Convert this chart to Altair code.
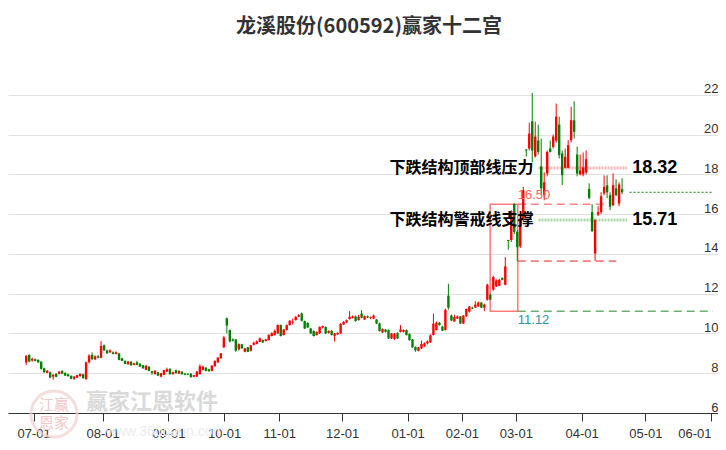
import altair as alt
import pandas as pd

title_text = "龙溪股份(600592)赢家十二宫"

# candle data, one entry per trading day; position of the first candle on the day axis
first_index = -2.5
opens = [8.54, 8.92, 8.64, 8.70, 8.67, 8.58, 8.25, 8.02, 8.05, 7.83,
         7.97, 7.97, 8.12, 8.02, 7.95, 7.87, 7.73, 7.78, 7.85, 7.95,
         7.70, 8.55, 8.92, 8.70, 8.85, 8.78, 9.40, 9.15, 9.05, 9.05,
         8.97, 9.00, 8.75, 8.62, 8.45, 8.58, 8.42, 8.55, 8.48, 8.40,
         8.17, 8.33, 8.10, 7.95, 8.05, 7.83, 7.92, 8.08, 8.22, 7.95,
         8.15, 7.98, 8.08, 7.98, 7.97, 7.98, 7.82, 7.83, 7.95, 8.17,
         8.28, 8.20, 8.12, 8.35, 8.55, 8.75, 9.30, 10.76, 10.17, 9.70,
         9.70, 9.20, 9.45, 9.08, 9.30, 9.13, 9.43, 9.47, 9.58, 9.67,
         9.62, 9.67, 9.87, 9.93, 10.00, 10.42, 9.92, 10.17, 10.42, 10.55,
         10.67, 10.84, 11.00, 10.62, 10.53, 10.25, 10.13, 9.92, 10.00, 10.30,
         10.33, 10.03, 10.13, 9.88, 9.95, 10.00, 10.45, 10.55, 10.72, 10.78,
         10.86, 10.67, 11.00, 10.70, 10.87, 10.78, 10.75, 10.70, 10.50, 10.05,
         10.20, 10.17, 9.75, 9.72, 10.03, 10.08, 10.08, 10.17, 9.97, 9.70,
         9.32, 9.13, 9.25, 9.35, 9.50, 9.55, 9.92, 10.17, 10.54, 10.34,
         10.17, 11.90, 10.90, 10.60, 10.75, 10.86, 10.50, 10.86, 11.10, 11.30,
         11.30, 11.36, 11.55, 11.30, 11.70, 11.95, 12.20, 12.37, 12.40, 12.79,
         12.45, 14.70, 14.70, 16.50, 15.11, 14.38, 15.72, 19.25, 19.30, 20.67,
         18.90, 19.70, 18.40, 16.95, 18.04, 19.30, 19.38, 19.70, 20.50, 19.05,
         18.33, 18.33, 19.72, 20.72, 19.00, 18.00, 18.00, 18.10, 17.26, 16.10,
         14.02, 15.98, 16.10, 17.04, 17.45, 16.95, 16.45, 17.29, 16.53, 17.26]
highs = [8.92, 8.95, 8.78, 8.74, 8.70, 8.60, 8.28, 8.16, 8.08, 7.95,
         8.00, 8.10, 8.14, 8.04, 7.97, 7.89, 7.85, 7.92, 7.99, 7.97,
         8.58, 8.95, 9.05, 8.90, 8.92, 9.62, 9.45, 9.18, 9.20, 9.10,
         9.10, 9.02, 8.78, 8.65, 8.62, 8.60, 8.52, 8.62, 8.50, 8.42,
         8.40, 8.35, 8.13, 8.15, 8.07, 8.02, 8.17, 8.28, 8.24, 8.07,
         8.18, 8.14, 8.10, 8.00, 7.99, 8.00, 7.92, 8.12, 8.45, 8.38,
         8.30, 8.22, 8.40, 8.65, 8.82, 9.02, 9.88, 10.80, 10.20, 9.75,
         9.72, 9.50, 9.48, 9.28, 9.32, 9.42, 9.58, 9.65, 9.80, 9.70,
         9.73, 9.95, 10.05, 10.20, 10.45, 10.45, 10.22, 10.45, 10.67, 10.75,
         10.87, 10.98, 11.05, 10.65, 10.56, 10.28, 10.15, 10.10, 10.35, 10.40,
         10.35, 10.15, 10.17, 10.02, 10.06, 10.52, 10.62, 10.70, 11.12, 10.90,
         10.90, 10.93, 11.17, 10.90, 10.90, 10.85, 10.95, 10.72, 10.55, 10.25,
         10.22, 10.20, 10.02, 10.02, 10.05, 10.42, 10.20, 10.20, 10.00, 9.72,
         9.35, 9.32, 9.64, 9.55, 9.65, 9.95, 11.00, 10.60, 10.58, 10.38,
         11.25, 12.50, 10.95, 10.95, 10.90, 10.88, 10.92, 11.25, 11.38, 11.34,
         11.62, 11.60, 11.58, 11.50, 12.50, 12.00, 12.90, 12.72, 12.75, 12.82,
         13.84, 14.71, 16.20, 16.55, 15.20, 15.80, 17.37, 19.27, 20.60, 22.10,
         20.65, 20.50, 19.80, 18.10, 19.20, 19.70, 20.00, 21.56, 20.90, 19.20,
         19.30, 19.72, 21.40, 21.68, 19.40, 19.00, 19.10, 19.20, 17.55, 16.50,
         15.75, 16.40, 17.10, 17.95, 17.95, 17.10, 18.05, 17.75, 17.60, 17.80]
lows = [8.42, 8.55, 8.58, 8.60, 8.52, 8.18, 8.02, 8.00, 7.75, 7.67,
        7.80, 7.95, 7.96, 7.86, 7.83, 7.70, 7.66, 7.76, 7.83, 7.73,
        7.68, 8.50, 8.68, 8.66, 8.75, 8.75, 9.12, 8.97, 9.02, 8.95,
        8.95, 8.65, 8.60, 8.45, 8.43, 8.38, 8.40, 8.40, 8.31, 8.22,
        8.15, 8.10, 7.92, 7.93, 7.86, 7.80, 7.90, 8.06, 7.93, 7.93,
        7.98, 7.96, 7.93, 7.90, 7.90, 7.78, 7.80, 7.81, 7.93, 8.15,
        8.10, 8.08, 8.10, 8.33, 8.50, 8.73, 9.28, 10.00, 9.55, 9.60,
        9.08, 9.15, 9.23, 9.05, 9.06, 9.10, 9.40, 9.45, 9.55, 9.53,
        9.60, 9.65, 9.85, 9.90, 9.98, 9.85, 9.90, 10.15, 10.40, 10.45,
        10.65, 10.82, 10.60, 10.22, 10.28, 9.98, 9.85, 9.90, 9.98, 10.25,
        9.98, 10.00, 9.90, 9.58, 9.92, 9.98, 10.43, 10.52, 10.70, 10.75,
        10.60, 10.65, 10.77, 10.68, 10.78, 10.72, 10.72, 10.48, 10.10, 10.03,
        10.05, 9.73, 9.72, 9.68, 9.73, 10.05, 10.05, 9.90, 9.64, 9.28,
        9.08, 9.10, 9.22, 9.32, 9.45, 9.52, 9.90, 10.15, 10.40, 10.12,
        10.15, 11.20, 10.62, 10.58, 10.72, 10.48, 10.48, 10.84, 11.05, 11.22,
        11.28, 11.34, 11.28, 11.12, 11.65, 11.68, 12.15, 12.33, 12.38, 12.68,
        12.42, 14.21, 14.60, 15.00, 13.64, 14.30, 15.60, 18.90, 19.20, 18.60,
        18.85, 19.00, 17.00, 16.70, 17.90, 19.10, 19.30, 19.60, 18.80, 17.46,
        18.30, 18.30, 19.60, 19.80, 17.90, 17.95, 17.90, 18.00, 16.75, 15.10,
        13.64, 15.90, 16.00, 16.95, 16.80, 16.20, 16.40, 16.90, 16.40, 17.00]
closes = [8.87, 8.59, 8.72, 8.62, 8.55, 8.22, 8.05, 8.12, 7.78, 7.92,
          7.82, 8.08, 7.98, 7.88, 7.85, 7.72, 7.83, 7.90, 7.97, 7.75,
          8.55, 8.89, 8.70, 8.85, 8.78, 9.37, 9.15, 9.00, 9.15, 8.97,
          9.05, 8.67, 8.62, 8.47, 8.58, 8.40, 8.50, 8.42, 8.33, 8.25,
          8.38, 8.12, 8.02, 8.13, 7.88, 8.00, 8.15, 8.20, 7.95, 8.05,
          8.00, 8.12, 7.95, 7.92, 7.92, 7.80, 7.90, 8.08, 8.35, 8.33,
          8.12, 8.10, 8.38, 8.62, 8.78, 9.00, 9.80, 10.40, 9.60, 9.63,
          9.13, 9.46, 9.25, 9.25, 9.08, 9.40, 9.53, 9.60, 9.75, 9.55,
          9.70, 9.93, 10.03, 10.13, 10.42, 9.87, 10.20, 10.42, 10.64, 10.60,
          10.84, 10.92, 10.64, 10.25, 10.30, 10.00, 9.87, 10.08, 10.33, 10.37,
          10.00, 10.13, 9.92, 10.00, 10.03, 10.48, 10.58, 10.67, 10.84, 10.86,
          10.62, 10.84, 10.79, 10.87, 10.80, 10.82, 10.90, 10.50, 10.12, 10.22,
          10.08, 9.75, 10.00, 10.00, 9.75, 10.20, 10.17, 9.92, 9.66, 9.30,
          9.15, 9.30, 9.47, 9.50, 9.60, 9.90, 10.50, 10.54, 10.42, 10.14,
          11.19, 11.30, 10.65, 10.83, 10.85, 10.50, 10.90, 11.23, 11.35, 11.25,
          11.45, 11.56, 11.30, 11.45, 12.45, 11.70, 12.84, 12.67, 12.70, 12.70,
          13.37, 14.65, 16.15, 15.11, 14.34, 15.72, 17.20, 19.20, 20.05, 19.20,
          19.90, 19.13, 17.30, 17.60, 19.13, 19.13, 19.90, 20.90, 18.97, 17.96,
          18.88, 19.47, 20.72, 20.14, 18.04, 18.20, 18.35, 18.76, 16.82, 15.15,
          15.70, 16.10, 16.90, 17.37, 17.10, 16.37, 17.46, 16.95, 17.49, 17.10]

# x axis: month ticks (day-axis positions) and labels
tick_positions = [0, 23, 45, 63.6, 82, 103, 124.9, 143, 161, 183, 204.3, 226.2]
tick_labels = ["07-01", "08-01", "09-01", "10-01", "11-01", "12-01",
               "01-01", "02-01", "03-01", "04-01", "05-01", "06-01"]
x_domain = [-6.915, 226.87]
y_domain = [6, 23.5]
y_ticks = [6, 8, 10, 12, 14, 16, 18, 20, 22]

# annotation values
box_x = [152.45, 161.67]
box_y = [11.12, 16.50]
top_line_end = 190.3
low_level = 13.64
low_line_end = 194.6
pressure_level = 18.32
support_level = 15.71
level_line_x = [168.6, 198.2]
last_close = 17.10
last_line_x = [199.0, 226.87]
label_right_x = 166.9
value_left_x = 199.9
pressure_text = "下跌结构顶部线压力"
support_text = "下跌结构警戒线支撑"

n = len(opens)
candles = pd.DataFrame({
    "idx": [first_index + i for i in range(n)],
    "open": opens, "high": highs, "low": lows, "close": closes,
})
candles["dir"] = ["up" if c >= o else "down" for o, c in zip(opens, closes)]

label_expr = " : ".join(
    f"datum.value == {p} ? '{l}'" for p, l in zip(tick_positions, tick_labels)
) + " : ''"

xs = alt.Scale(domain=x_domain, nice=False, zero=False)
ys = alt.Scale(domain=y_domain, nice=False, zero=False)

x_axis = alt.Axis(values=tick_positions, labelExpr=label_expr, title=None, grid=False,
                  domainColor="#333", tickColor="#333", tickSize=8, labelFontSize=13,
                  labelColor="#333", labelPadding=6, labelFlush=10,
                  labelFont="Liberation Sans", minExtent=0)
y_axis = alt.Axis(orient="right", values=y_ticks, title=None, grid=True, gridColor="#e2e2e2",
                  domain=False, ticks=False, tickSize=0, labelAlign="right",
                  labelBaseline="alphabetic", labelPadding=0, labelOffset=-2,
                  labelFontSize=13, labelColor="#333", labelFont="Liberation Sans",
                  minExtent=0, maxExtent=0)


def X(field):
    return alt.X(field, type="quantitative", scale=xs, axis=x_axis)


def Y(field):
    return alt.Y(field, type="quantitative", scale=ys, axis=y_axis)


color = alt.Color("dir:N", scale=alt.Scale(domain=["up", "down"], range=["#ff0000", "#008000"]),
                  legend=None)

wicks = alt.Chart(candles).mark_rule(strokeWidth=1).encode(
    x=X("idx"), y=Y("low"), y2="high", color=color)
bodies = alt.Chart(candles).mark_bar(size=2.4).encode(
    x=X("idx"), y=Y("open"), y2="close", color=color)


def hline(x0, x1, level, stroke, width, dash, opacity=1.0):
    df = pd.DataFrame({"idx": [x0], "idx2": [x1], "price": [level]})
    return alt.Chart(df).mark_rule(stroke=stroke, strokeWidth=width, strokeDash=dash,
                                   opacity=opacity).encode(
        x=X("idx"), x2="idx2", y=Y("price"))


box_df = pd.DataFrame({"idx": [box_x[0]], "idx2": [box_x[1]],
                       "price": [box_y[0]], "price2": [box_y[1]]})
box = alt.Chart(box_df).mark_rect(fill=None, stroke="#ff5050", strokeWidth=1.5,
                                  opacity=0.75).encode(
    x=X("idx"), x2="idx2", y=Y("price"), y2="price2")

top_dash = hline(box_x[1], top_line_end, box_y[1], "#ff7070", 1.5, [8, 5], 0.85)
low_dash = hline(box_x[1], low_line_end, low_level, "#e82020", 1, [8, 5])
base_dash = hline(box_x[1], x_domain[1], box_y[0], "#4a9a4a", 1.5, [8, 5], 0.8)
pressure_line = hline(level_line_x[0], level_line_x[1], pressure_level, "#ff8080", 3, [2, 1], 0.6)
support_line = hline(level_line_x[0], level_line_x[1], support_level, "#70c070", 3, [2, 1], 0.6)
last_line = hline(last_line_x[0], last_line_x[1], last_close, "#008000", 1, [2, 2])


def label(x, y, text, align, baseline, size, color, weight="bold", dy=0,
          font="Noto Sans CJK SC"):
    df = pd.DataFrame({"idx": [x], "price": [y], "t": [text]})
    return alt.Chart(df).mark_text(align=align, baseline=baseline, fontSize=size,
                                   fontWeight=weight, color=color, dy=dy, font=font).encode(
        x=X("idx"), y=Y("price"), text="t:N")


pressure_lbl = label(label_right_x, pressure_level, pressure_text, "right", "middle", 16, "#000")
support_lbl = label(label_right_x, support_level, support_text, "right", "middle", 16, "#000")
pressure_val = label(value_left_x, pressure_level, f"{pressure_level:.2f}", "left", "middle", 18,
                     "#000", font="Liberation Sans")
support_val = label(value_left_x, support_level, f"{support_level:.2f}", "left", "middle", 18,
                    "#000", font="Liberation Sans")
top_val = label(box_x[1], box_y[1], f"{box_y[1]:.2f}", "left", "bottom", 13, "#ff6060",
                weight="normal", dy=-2, font="Liberation Sans")
base_val = label(box_x[1], box_y[0], f"{box_y[0]:.2f}", "left", "top", 13, "#2a95a8",
                 weight="normal", dy=3, font="Liberation Sans")

# watermark
wm_df = pd.DataFrame({"t": ["赢家江恩软件"]})
watermark = alt.Chart(wm_df).mark_text(fontSize=22, color="#d9d9d9", font="Noto Sans CJK SC",
                                       fontWeight="bold").encode(
    x=alt.value(144), y=alt.value(337), text="t:N")
url_df = pd.DataFrame({"t": ["www.360gann.com"]})
url = alt.Chart(url_df).mark_text(fontSize=14, color="#ececec", font="Liberation Sans").encode(
    x=alt.value(157), y=alt.value(367), text="t:N")
logo_df = pd.DataFrame({"t": ["江赢"], "b": ["恩家"]})
logo_ring = alt.Chart(logo_df).mark_point(shape="circle", size=2124, filled=False,
                                          stroke="#f2d0d0", strokeWidth=3).encode(
    x=alt.value(46), y=alt.value(349))
logo_t1 = alt.Chart(logo_df).mark_text(fontSize=15, color="#f0c8c8", font="Noto Sans CJK SC").encode(
    x=alt.value(46), y=alt.value(340), text="t:N")
logo_t2 = alt.Chart(logo_df).mark_text(fontSize=15, color="#f0c8c8", font="Noto Sans CJK SC").encode(
    x=alt.value(46), y=alt.value(358), text="b:N")

chart = alt.layer(
    logo_ring, logo_t1, logo_t2, watermark, url,
    base_dash, box, top_dash, low_dash, pressure_line, support_line, last_line,
    wicks, bodies,
    pressure_lbl, support_lbl, pressure_val, support_val, top_val, base_val,
).properties(
    width=710, height=348,
    title=alt.TitleParams(title_text, fontSize=20, font="Noto Sans CJK SC", fontWeight="bold",
                          color="#333", anchor="middle", offset=28, dx=6),
    autosize=alt.AutoSizeParams(type="none"),
    padding={"left": 0, "top": 57, "right": 0, "bottom": 28},
).configure_view(stroke=None).resolve_scale(x="shared", y="shared")

chart.save("out.html", embed_options={"renderer": "svg", "actions": False})
